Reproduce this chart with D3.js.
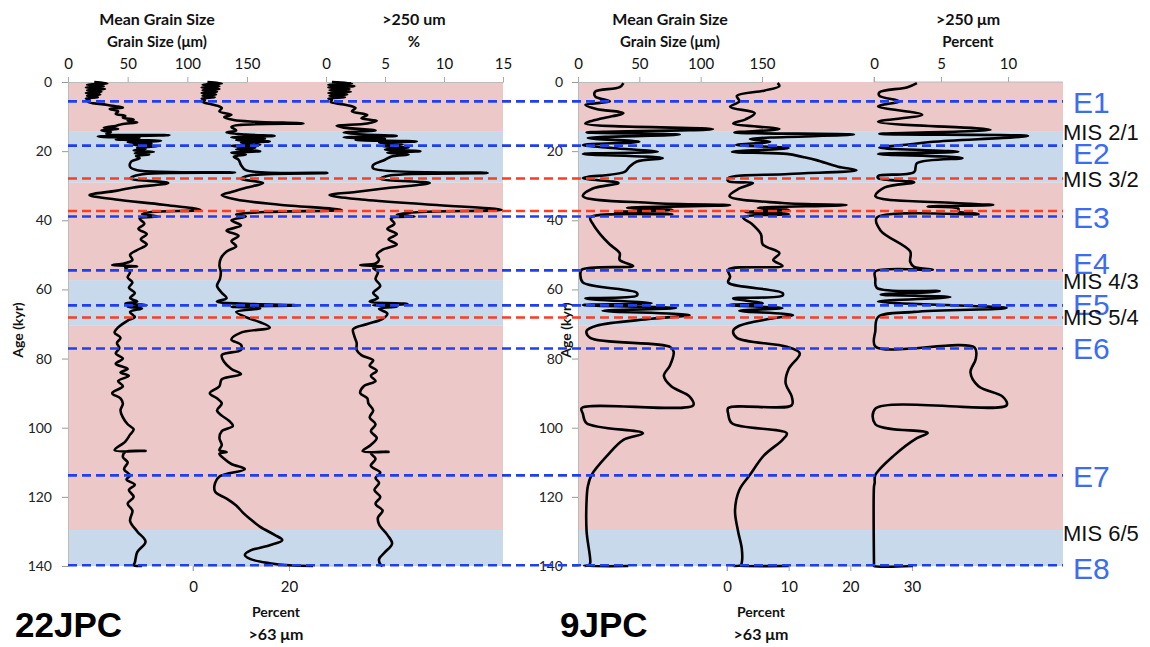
<!DOCTYPE html>
<html><head><meta charset="utf-8">
<script src="https://cdn.jsdelivr.net/npm/d3@7"></script>
<style>body{margin:0;background:#fff;} svg{display:block}</style>
</head><body><svg id="c" width="1150" height="647"></svg>
<script>
// ---------------- DATA ----------------
const ageTicks = [0,20,40,60,80,100,120,140];
const grainTicks = [0,50,100,150];
const left250Ticks = [0,5,10,15];
const right250Ticks = [0,5,10];
const left63Ticks = [0,20];
const right63Ticks = [0,10,20,30];

const bandBounds = [0,14.2,29.1,57.3,70.5,129.6,140];
const bandKinds  = ["warm","cold","warm","cold","warm","cold"];

const eventAges = [5.6,18.4,38.9,54.5,64.6,77.1,113.8,139.8];
const eventNames = ["E1","E2","E3","E4","E5","E6","E7","E8"];
const eventLabelAges = [5.8,20.6,39.0,52.4,64.3,77.0,114.0,140.6];
const boundaryAges = [27.9,37.3,68.1];
const misNames = ["MIS 2/1","MIS 3/2","MIS 4/3","MIS 5/4","MIS 6/5"];
const misLabelAges = [14.4,28.1,57.6,68.0,130.4];

// 22JPC mean grain size (age kyr, µm)
const jpc22Grain = [[0,22],[0.4,33],[0.8,16],[1.2,30],[1.6,15],[2.0,31],[2.4,16],[2.8,28],[3.2,15],[3.6,27],[4.0,16],[4.4,25],[4.8,15],[5.2,18],[5.8,17],[6.4,28],[7.0,40],[7.4,46],[7.8,35],[8.5,42],[9.2,40],[9.8,48],[10.3,46],[10.8,55],[11.2,50],[11.7,58],[12.2,45],[12.7,40],[13.2,30],[13.6,42],[14.0,28],[14.5,36],[15.0,32],[15.4,85],[15.8,25],[16.2,60],[16.6,40],[17.0,78],[17.4,50],[17.8,70],[18.2,55],[18.6,75],[19.0,58],[19.4,65],[19.8,55],[20.2,72],[20.6,56],[21.0,68],[21.4,57],[22.0,60],[23,53],[24.5,52],[25.5,58],[26.2,140],[26.8,60],[27.9,52],[29.2,84],[30.5,55],[31.5,40],[32.7,18],[34,40],[35.5,80],[37.0,111],[37.6,70],[38.2,62],[38.9,75],[39.5,60],[41,64],[42.5,59],[44,66],[45.5,61],[47,66],[48.6,58],[50,52],[51.5,54],[52.5,47],[53,37],[53.3,58],[53.7,48],[55,52],[56.5,50],[58,54],[59.5,51],[61,56],[62.5,52],[63.5,58],[64,48],[64.5,66],[65,50],[65.5,62],[66.5,52],[68,56],[69,50],[71,42],[72.5,39],[74,44],[75.5,41],[77,43],[78.5,40],[80,46],[81.5,40],[83,50],[84,44],[85,51],[86.5,42],[88,46],[90,37],[91.5,44],[93,46],[95,44],[97,46],[99,50],[100.5,55],[102,52],[104,48],[106.5,39],[106.7,65],[107,48],[108.5,46],[110,50],[112,47],[113.8,52],[115,49],[116.5,56],[118,51],[120,55],[122,50],[124,54],[127,52],[130,58],[133,65],[136,58],[139,56],[139.8,55],[140,62]];
// 22JPC percent >63 µm
const jpc22Coarse = [[0,3],[0.4,6],[0.8,2],[1.2,5.5],[1.6,1.8],[2.0,5.5],[2.4,2],[2.8,5],[3.2,1.8],[3.6,4.8],[4.0,2],[4.4,4.5],[4.8,1.8],[5.2,2.5],[5.8,2],[6.5,4],[7.5,6],[8.5,5.5],[9.5,8],[10.2,6.5],[11,8.5],[11.5,13],[12.0,23],[12.4,10],[13,8],[14,9],[14.6,7],[15.2,11],[15.6,17],[16,8],[16.4,15],[16.8,9],[17.2,16],[17.6,10],[18.1,14],[18.5,8],[19,13],[19.5,9],[20,14],[20.5,8],[21,11],[21.6,8.5],[22.5,9.5],[24,10],[25.5,11],[26.3,28],[27,12],[28,10],[29.2,14.6],[30.6,11],[31.8,8],[32.7,6],[34,9],[35.5,18],[37,31],[37.6,15],[38.3,9],[38.9,11],[40,8],[41.5,10],[43,7],[44.5,9.5],[46,8],[47.5,9],[49,7],[51,5.8],[53,5.5],[55,5.8],[57,5.6],[59,5],[61,6],[62.5,7],[63.5,5],[64.2,12],[64.6,22],[65.0,8],[65.5,14],[66.5,9],[68,11],[69.5,14],[71,16],[72.5,10],[74.5,8],[76,10],[77.5,10],[79,6],[81,6.5],[83,8],[84.5,10],[86,6],[88,5.5],[90,3.5],[91.5,5],[93,6],[95,5],[96.5,6],[98,7.5],[99.5,8.3],[101,6],[103,5.5],[105,6],[106.5,5.5],[107,7],[107.5,5.5],[109,6.5],[110.5,8],[112,10.8],[114,5.6],[116,4.6],[118.5,4.6],[120.5,7],[122.5,9],[124.7,10.5],[126.5,12],[128.7,14],[131,17],[132.5,18.6],[134,16],[135.5,12],[136.8,10.8],[138,12],[139.2,16],[139.8,20],[140,25]];
// 22JPC >250 µm %
const jpc22Sand = [[0,0.5],[0.4,2.2],[0.8,0.2],[1.2,2.4],[1.6,0.2],[2.0,2.0],[2.4,0.3],[2.8,2.1],[3.2,0.2],[3.6,1.8],[4.0,0.3],[4.4,1.6],[4.8,0.2],[5.2,0.5],[5.8,0.4],[6.5,1.5],[7.5,2.5],[8.5,2.2],[9.5,3.5],[10.5,3.0],[11.2,4.3],[12,3.5],[12.7,0.9],[13.2,1.5],[14.0,4.2],[14.6,1.5],[15.2,3.2],[15.6,6],[16,1.5],[16.4,5],[16.8,2.5],[17.2,7.7],[17.6,4.5],[18.1,6.5],[18.5,4.8],[19,7],[19.5,5],[20,8],[20.5,5.2],[21,7],[21.6,5.5],[22.5,5],[24,4],[25,4],[26.3,13.7],[27,5.5],[28,4.6],[29.2,8.8],[30.6,5.4],[31.8,2.5],[32.7,0.3],[34,3],[35.5,9],[37,14.9],[37.6,8],[38.3,6],[38.9,7.5],[39.5,5.5],[41,5.8],[42.5,5.2],[44,6],[45.5,5.3],[47,6],[48.5,4.8],[50,4.3],[51.5,4.5],[52.5,4.2],[53,2.9],[53.3,4.8],[53.8,4],[55,4.4],[57,4.2],[59,4.6],[61,4.0],[62.5,4.4],[63.5,3.7],[64.2,6.9],[64.6,4],[65,6],[65.6,4.5],[67,5.2],[68.5,4.8],[70,3.5],[71.5,2.3],[73.5,2.4],[75.5,2.6],[77.5,2.6],[79,3],[80.5,4],[82,3.7],[83.5,4.3],[85,3.8],[86.5,4.2],[88,3.2],[90,2.9],[91.5,3.5],[93,3.6],[95,4],[97,3.7],[99,4.2],[101,3.8],[103,4.3],[105,3.8],[106.8,3.1],[107,5.3],[107.3,3.8],[109,4.2],[111,3.8],[113,4.6],[114.5,4.2],[116,4.5],[118,4.1],[120,4.6],[122,4.2],[124,4.8],[126,4.4],[128,4.5],[131,5.2],[133.5,5.6],[136,5.0],[138,4.5],[139.5,4.6],[140,4.8]];

// 9JPC mean grain size
const jpc9Grain = [[0.3,37],[1.5,34],[2.8,14],[4.2,14],[5.6,26],[6.6,6],[7.8,15],[9,37],[10.5,20],[12,6],[13.6,110],[14.6,7],[15.2,83],[16.2,8],[17.3,50],[18.2,4],[19.1,28],[20.2,65],[20.8,4],[22,69],[23,48],[24.5,42],[26,38],[27.8,4],[29.2,33],[30.8,12],[33,4],[35,60],[35.6,124],[36.4,40],[37,77],[37.6,30],[38.2,77],[39.2,10],[41,12],[44,18],[47,26],[49.5,34],[51.5,34],[53.2,45],[54.3,3],[56,2],[58,4],[61,48],[61.8,48],[62.6,6],[64,60],[64.5,4],[65.4,80],[66.2,20],[67.4,91],[68.5,60],[70.5,15],[72,7],[74,10],[76.6,75],[78,78],[82,75],[85,70],[88,76],[91,91],[93.5,94],[94.3,3],[96,4],[98.7,7],[101.6,53],[103.5,37],[108,24],[113.7,11],[117,8],[121,7],[130,7],[139,10],[139.8,9],[140,5],[140,41]];
// 9JPC percent >63 µm
const jpc9Coarse = [[0.3,8.2],[1.2,8.5],[2.5,6],[4,1.6],[5.6,2],[7.2,0.5],[9,4.5],[10.8,3],[12,1],[13.6,8.5],[14.6,1.2],[15.2,20.6],[16.5,3.7],[17.3,7],[18.2,1.5],[19.1,10],[20.2,0.8],[20.8,9.7],[21.7,12.3],[22.6,14.5],[24.5,18],[25.5,21],[26.6,10],[27.8,0.2],[28.7,0.2],[29.2,4.2],[30.8,2],[33,0.4],[35,9],[35.6,19.4],[36.4,5],[37,10],[37.6,3],[38.2,10],[39.2,2.6],[41,4],[44,5.5],[47,5.8],[49.5,8.5],[51.5,7.5],[53.2,9],[54.3,0.2],[56.3,0.5],[58,0.2],[61,9],[61.8,9],[62.6,1],[64,5.8],[64.5,0.4],[65.4,9],[66.2,2],[67.4,10.7],[68.5,7],[70.5,2],[72,1],[74,1.6],[76.6,9.7],[78.5,11.8],[83,10],[87,9.5],[91,10.5],[93.5,10.5],[94.3,0.2],[96,0.2],[98.7,0.8],[101.6,9.7],[103.5,9],[108,6],[113.7,3.7],[118,2],[124,1.3],[130,1.8],[135,2.4],[139,2.4],[139.8,2.2],[140,1],[140,10]];
// 9JPC >250 µm percent
const jpc9Sand = [[0.3,3.2],[1.5,2.5],[3,0.4],[4,0.4],[5.6,1.9],[7,0.3],[9.5,3.6],[11.5,0.3],[13.8,8.7],[15,0.4],[15.6,11.5],[17.3,4.4],[18,2.7],[19,0.4],[20.2,6.3],[20.8,0.3],[22,6.6],[23.5,3.2],[26,3.0],[27.2,0.3],[27.8,0.3],[29.0,3.0],[30.5,0.8],[33,0.1],[35,6],[35.6,8.9],[36,4],[36.6,6.3],[37.4,6.3],[38.2,7.8],[39.3,0.2],[43,0.5],[49,2.7],[52,2.7],[53.5,3],[54.3,4.4],[54.8,0.1],[57,0.1],[59.5,0.2],[60.5,4.9],[61.5,0.5],[62.2,5.7],[63.5,0.3],[65.4,9.9],[66.5,3],[68,0.3],[72,0.1],[76.5,0.1],[76.8,7.5],[80,7.6],[84,7.2],[88,7.8],[91,9.6],[93.5,9.9],[94.5,0.1],[99,0.1],[101.5,4],[103,3.2],[108,1.5],[113.7,0.1],[116,0.05],[117,0],[139.8,0],[140,0],[140,2.9]];

// ---------------- DRAW ----------------
const svg = d3.select("#c");
const FONT = "Lato, 'Open Sans', sans-serif";
const ARIAL = "'Liberation Sans', Arial, sans-serif";
const y = d3.scaleLinear().domain([0,140]).range([82,566]);

const panels = [
  {x0:68, x1:503,
   grain: d3.scaleLinear().domain([0,150]).range([68,247]),
   sand: d3.scaleLinear().domain([0,15]).range([326,503]), sandTicks:left250Ticks,
   coarse: d3.scaleLinear().domain([0,20]).range([193,289]), coarseTicks:left63Ticks, coarseEnd:35,
   dGrain:jpc22Grain, dCoarse:jpc22Coarse, dSand:jpc22Sand,
   t1:"Mean Grain Size", t2:"Grain Size (\u03bcm)", t3:">250 um", t4:"%",
   tx1:157, tx2:414, name:"22JPC", nameX:15, ageX:18, ageLabX:52, botX:276},
  {x0:578, x1:1063,
   grain: d3.scaleLinear().domain([0,150]).range([578,762]),
   sand: d3.scaleLinear().domain([0,10]).range([874,1008]), sandTicks:right250Ticks,
   coarse: d3.scaleLinear().domain([0,30]).range([727,912]), coarseTicks:right63Ticks, coarseEnd:30,
   dGrain:jpc9Grain, dCoarse:jpc9Coarse, dSand:jpc9Sand,
   t1:"Mean Grain Size", t2:"Grain Size (\u03bcm)", t3:">250 \u03bcm", t4:"Percent",
   tx1:670, tx2:968, name:"9JPC", nameX:560, ageX:566, ageLabX:563, botX:761}
];

const bandColor = {warm:"#ecc9c8", cold:"#c7d9ea"};

panels.forEach(p => {
  const g = svg.append("g");
  bandKinds.forEach((k,i) => {
    g.append("rect").attr("x",p.x0).attr("width",p.x1-p.x0)
      .attr("y",y(bandBounds[i])).attr("height",y(bandBounds[i+1])-y(bandBounds[i]))
      .attr("fill",bandColor[k]);
  });
  const ya = g.append("g").attr("transform",`translate(${p.x0},0)`)
    .call(d3.axisLeft(y).tickValues(ageTicks).tickSize(6).tickPadding(p.x0-p.ageLabX-6));
  ya.select(".domain").attr("stroke","#bbb");
  ya.selectAll(".tick line").attr("stroke","#999");
  ya.selectAll("text").attr("font-family",FONT).attr("font-size",14).attr("fill","#222");
  const ta = g.append("g").attr("transform","translate(0,82)")
    .call(d3.axisTop(p.grain).tickValues(grainTicks).tickSize(5).tickPadding(8));
  const tb = g.append("g").attr("transform","translate(0,82)")
    .call(d3.axisTop(p.sand).tickValues(p.sandTicks).tickSize(5).tickPadding(8));
  if (p.x0 > 500) tb.select(".domain").attr("d",`M${p.sand(0)},-5V0H${p.x1}`);
  [ta,tb].forEach(a=>{
    a.select(".domain").attr("stroke","#bbb");
    a.selectAll(".tick line").attr("stroke","#aaa");
    a.selectAll("text").attr("font-family",FONT).attr("font-size",15).attr("fill","#111");
  });
  const ba = g.append("g").attr("transform","translate(0,566)")
    .call(d3.axisBottom(p.coarse).tickValues(p.coarseTicks).tickSize(5).tickPadding(10));
  ba.select(".domain").attr("d",`M${p.coarse(0)},5V0H${p.coarse(p.coarseEnd)}`).attr("stroke","#bbb");
  ba.selectAll(".tick line").attr("stroke","#aaa");
  ba.selectAll("text").attr("font-family",FONT).attr("font-size",15).attr("fill","#111");

  const mk = sc => d3.line().x(d=>sc(d[1])).y(d=>y(d[0])).curve(d3.curveCatmullRom.alpha(0.5));
  [[p.dGrain,p.grain],[p.dCoarse,p.coarse],[p.dSand,p.sand]].forEach(([d,sc])=>{
    g.append("path").attr("d",mk(sc)(d)).attr("fill","none")
      .attr("stroke","#000").attr("stroke-width",2.6).attr("stroke-linejoin","round");
  });

  const tt = (x,yy,txt,sz,w) => svg.append("text").attr("x",x).attr("y",yy).attr("text-anchor","middle")
    .attr("font-family",FONT).attr("font-size",sz).attr("font-weight",w).attr("fill","#111").text(txt);
  tt(p.tx1,25,p.t1,16,"bold"); tt(p.tx1,47,p.t2,15,"bold");
  tt(p.tx2,25,p.t3,16,"bold"); tt(p.tx2,47,p.t4,15,"bold");
  tt(p.botX,617,"Percent",14,"bold"); tt(p.botX,640,">63 \u03bcm",16,"bold");
  svg.append("text").attr("x",p.nameX).attr("y",637).attr("font-family",ARIAL)
    .attr("font-size",35).attr("font-weight","bold").attr("fill","#000").text(p.name);
  svg.append("text").attr("transform",`translate(${p.ageX+5},330) rotate(-90)`).attr("text-anchor","middle")
    .attr("font-family",FONT).attr("font-size",14).attr("font-weight","bold").attr("fill","#111").text("Age (kyr)");
});

eventAges.forEach(a => svg.append("line").attr("x1",68).attr("x2",1063).attr("y1",y(a)).attr("y2",y(a))
  .attr("stroke","#1f3ff5").attr("stroke-width",2.6).attr("stroke-dasharray","9,5"));
boundaryAges.forEach(a => svg.append("line").attr("x1",68).attr("x2",1063).attr("y1",y(a)).attr("y2",y(a))
  .attr("stroke","#ff3b22").attr("stroke-width",2.6).attr("stroke-dasharray","9,5"));

eventNames.forEach((n,i)=> svg.append("text").attr("x",1073).attr("y",y(eventLabelAges[i]))
  .attr("dy","0.36em").attr("font-family",ARIAL).attr("font-size",30).attr("fill","#3b6cf2").text(n));
misNames.forEach((n,i)=> svg.append("text").attr("x",1063).attr("y",y(misLabelAges[i]))
  .attr("dy","0.36em").attr("font-family",ARIAL).attr("font-size",22).attr("fill","#111").text(n));
</script></body></html>
